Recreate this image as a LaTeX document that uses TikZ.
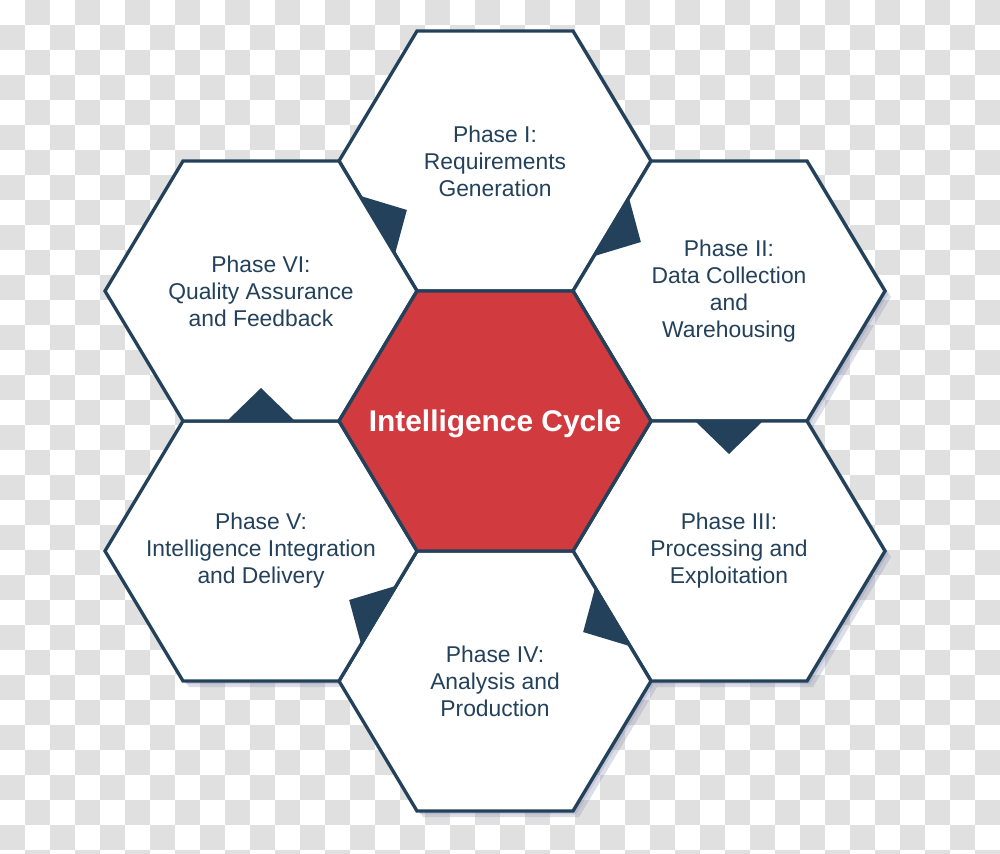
\documentclass[tikz,border=0pt]{standalone}
\usepackage{fontspec}
\setmainfont{Liberation Sans}
\usetikzlibrary{calc}
\definecolor{CycleNavy}{HTML}{23415A}
\definecolor{CycleRed}{HTML}{D13B3F}
\definecolor{CheckGray}{HTML}{E0E0E0}
\definecolor{ShadowGray}{HTML}{8E92B0}
\newcommand{\hexpath}{++(-156,0) -- ++(78,-130) -- ++(156,0) -- ++(78,130) -- ++(-78,130) -- ++(-156,0) -- cycle}
\begin{document}
\begin{tikzpicture}[x=0.02cm,y=-0.02cm,
  hexcell/.style={draw=CycleNavy,line width=1.9pt,fill=white},
  hexcore/.style={hexcell,fill=CycleRed},
  hexshade/.style={fill=ShadowGray,opacity=0.3},
  phase/.style={align=center,text=CycleNavy,font=\fontsize{13}{15.4}\selectfont},
  core/.style={align=center,text=white,font=\fontsize{17}{20}\selectfont\bfseries},
  flow/.style={fill=CycleNavy}
]
\useasboundingbox (0,0) rectangle (1000,854);
% checkered backdrop
\begin{scope}
  \clip (0,0) rectangle (1000,854);
  \fill[white] (0,0) rectangle (1000,854);
  \foreach \j in {0,...,34}
    \foreach \i in {0,...,19} {
      \pgfmathtruncatemacro\col{2*\i+1-mod(\j,2)}
      \fill[CheckGray] (\col*25,\j*25) rectangle ++(25,25);
    }
\end{scope}
% cell centres
\coordinate (c0) at (495,421);
\coordinate (c1) at (495,161);
\coordinate (c2) at (729,291);
\coordinate (c3) at (729,551);
\coordinate (c4) at (495,681);
\coordinate (c5) at (261,551);
\coordinate (c6) at (261,291);
% soft shadows, then the cells
\foreach \k in {1,...,6} {
  \path[hexshade] ($(c\k)+(3,3)$) \hexpath;
  \path[hexshade] ($(c\k)+(6,6)$) \hexpath;
}
\foreach \k in {1,...,6}
  \path[hexcell] (c\k) \hexpath;
\path[hexcore] (c0) \hexpath;
% flow marks on the shared edges
\foreach \a/\b in {6/1,1/2,2/3,3/4,4/5,5/6} {
  \coordinate (m\a\b) at ($(c\a)!0.5!(c\b)$);
  \fill[flow] ($(m\a\b)!0.66cm!(c\b)$) -- ($(m\a\b)!0.68cm!90:(c\b)$) -- ($(m\a\b)!0.68cm!-90:(c\b)$) -- cycle;
}
\node[phase] (p1) at (c1) {Phase I:\\Requirements\\Generation};
\node[phase] (p2) at (c2) {Phase II:\\Data Collection\\and\\Warehousing};
\node[phase] (p3) at (c3) {Phase III:\\Processing and\\Exploitation};
\node[phase] (p4) at (c4) {Phase IV:\\Analysis and\\Production};
\node[phase] (p5) at (c5) {Phase V:\\Intelligence Integration\\and Delivery};
\node[phase] (p6) at (c6) {Phase VI:\\Quality Assurance\\and Feedback};
\node[core] (cycle) at ($(c0)+(0,3)$) {Intelligence Cycle};
\end{tikzpicture}
\end{document}
